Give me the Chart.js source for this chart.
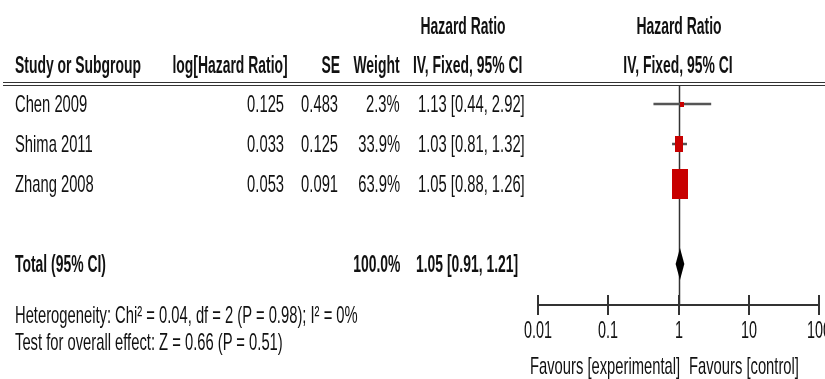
<!DOCTYPE html>
<html>
<head>
<meta charset="utf-8">
<script src="https://cdn.jsdelivr.net/npm/chart.js@4.4.1/dist/chart.umd.min.js"></script>
<style>
  body { margin: 0; background: #fff; width: 825px; height: 379px; overflow: hidden; position: relative; }
  #forest { position: absolute; left: 0; top: 0; }
  .t { position: absolute; white-space: nowrap; font-family: 'Liberation Sans', Arial, sans-serif;
       font-size: 24px; line-height: 24px; color: #111; }
  .b { font-weight: bold; }
  .rule { position: absolute; left: 3px; right: 0; top: 82px; height: 0; border-top: 4px double #333; }
</style>
</head>
<body>
<canvas id="forest" width="825" height="379"></canvas>
<div class="rule"></div>
<div id="labels"></div>
<script>
// Study data
const studies = ['Chen 2009', 'Shima 2011', 'Zhang 2008'];
const logHR = [0.125, 0.033, 0.053];
const se = [0.483, 0.125, 0.091];
const weights = [2.3, 33.9, 63.9];
const hr = [1.13, 1.03, 1.05];
const ciLow = [0.44, 0.81, 0.88];
const ciHigh = [2.92, 1.32, 1.26];

// Pooled estimate
const totalWeight = 100.0;
const totalHR = 1.05;
const totalLow = 0.91;
const totalHigh = 1.21;

// Axis
const tickValues = [0.01, 0.1, 1, 10, 100];
const tickLabels = ['0.01', '0.1', '1', '10', '100'];

// Row slots on the y scale
const rowPos = [1, 2, 3];
const totalPos = 5;

const heterogeneity = 'Heterogeneity: Chi\u00b2 = 0.04, df = 2 (P = 0.98); I\u00b2 = 0%';
const overallEffect = 'Test for overall effect: Z = 0.66 (P = 0.51)';

const SQUEEZE = 0.615;
const SQUEEZE_BOLD = 0.58;
const labels = document.getElementById('labels');

function addText(str, x, y, align, bold) {
  const el = document.createElement('div');
  el.className = bold ? 't b' : 't';
  el.textContent = str;
  const s = bold ? SQUEEZE_BOLD : SQUEEZE;
  el.style.top = (y - 12) + 'px';
  if (align === 'right') {
    el.style.right = (825 - x) + 'px';
    el.style.transformOrigin = 'right center';
    el.style.transform = `scaleX(${s})`;
  } else if (align === 'center') {
    el.style.left = x + 'px';
    el.style.transform = `translateX(-50%) scaleX(${s})`;
  } else {
    el.style.left = x + 'px';
    el.style.transformOrigin = 'left center';
    el.style.transform = `scaleX(${s})`;
  }
  labels.appendChild(el);
}

// Red weight boxes, area grows with weight
function boxImage(w) {
  const c = document.createElement('canvas');
  c.width = Math.max(4, Math.round(w * 0.25));
  c.height = Math.max(5, Math.round(w * 0.47));
  const g = c.getContext('2d');
  g.fillStyle = '#c80000';
  g.fillRect(0, 0, c.width, c.height);
  return c;
}

const forestExtras = {
  id: 'forestExtras',
  beforeDatasetsDraw(chart) {
    const { ctx, chartArea, scales: { x } } = chart;
    const px = Math.round(x.getPixelForValue(1)) + 0.5;
    ctx.save();
    ctx.strokeStyle = '#333';
    ctx.lineWidth = 1.5;
    ctx.beginPath();
    ctx.moveTo(px, chartArea.top);
    ctx.lineTo(px, chartArea.bottom);
    ctx.stroke();
    ctx.restore();
  },
  afterDatasetsDraw(chart) {
    const { ctx, scales: { x, y } } = chart;
    ctx.save();
    // pooled diamond
    ctx.fillStyle = '#000';
    ctx.beginPath();
    ctx.moveTo(x.getPixelForValue(totalLow), y.getPixelForValue(totalPos));
    ctx.lineTo(x.getPixelForValue(totalHR), y.getPixelForValue(totalPos - 0.4));
    ctx.lineTo(x.getPixelForValue(totalHigh), y.getPixelForValue(totalPos));
    ctx.lineTo(x.getPixelForValue(totalHR), y.getPixelForValue(totalPos + 0.4));
    ctx.closePath();
    ctx.fill();
    // tick marks above the axis line, and squeezed tick labels
    tickValues.forEach((v, i) => {
      const px = Math.round(x.getPixelForValue(v));
      ctx.strokeStyle = '#333';
      ctx.lineWidth = 2;
      ctx.beginPath();
      ctx.moveTo(px, x.top - 10);
      ctx.lineTo(px, x.top);
      ctx.stroke();
      ctx.save();
      ctx.translate(px, x.top + 26);
      ctx.scale(0.6, 1);
      ctx.font = '24px "Liberation Sans", Arial, sans-serif';
      ctx.textAlign = 'center';
      ctx.textBaseline = 'middle';
      ctx.fillStyle = '#111';
      ctx.fillText(tickLabels[i], 0, 0);
      ctx.restore();
    });
    ctx.restore();
  }
};

const boxes = {
  data: hr.map((v, i) => ({ x: v, y: rowPos[i] })),
  pointStyle: weights.map(boxImage),
  pointRadius: 5,
  pointHoverRadius: 5
};

const ciLines = studies.map((s, i) => ({
  data: [{ x: ciLow[i], y: rowPos[i] }, { x: ciHigh[i], y: rowPos[i] }],
  showLine: true,
  borderColor: '#555',
  borderWidth: 2.5,
  pointRadius: 0
}));

const chart = new Chart(document.getElementById('forest'), {
  type: 'scatter',
  data: { datasets: [boxes, ...ciLines] },
  options: {
    responsive: false,
    animation: false,
    devicePixelRatio: 1,
    layout: { padding: { left: 538, right: 2, top: 85, bottom: 0 } },
    plugins: { legend: { display: false }, tooltip: { enabled: false } },
    scales: {
      x: {
        type: 'logarithmic',
        min: 0.01,
        max: 100,
        afterBuildTicks: scale => { scale.ticks = tickValues.map(v => ({ value: v })); },
        afterFit: scale => { scale.height = 74; scale.paddingLeft = 0; scale.paddingRight = 0; },
        ticks: { display: false },
        grid: { drawOnChartArea: false, color: '#333', lineWidth: 2, tickLength: 10 },
        border: { color: '#333', width: 2 }
      },
      y: {
        type: 'linear',
        display: false,
        reverse: true,
        min: 0.525,
        max: 6.025
      }
    }
  },
  plugins: [forestExtras]
});

// Table text
const yScale = chart.scales.y;
const xScale = chart.scales.x;

addText('Hazard Ratio', 463, 26, 'center', true);
addText('Hazard Ratio', 679, 26, 'center', true);
addText('Study or Subgroup', 15, 65, 'left', true);
addText('log[Hazard Ratio]', 288, 65, 'right', true);
addText('SE', 340, 65, 'right', true);
addText('Weight', 400, 65, 'right', true);
addText('IV, Fixed, 95% CI', 413, 65, 'left', true);
addText('IV, Fixed, 95% CI', 678, 65, 'center', true);

studies.forEach((s, i) => {
  const y = yScale.getPixelForValue(rowPos[i]);
  addText(s, 15, y, 'left');
  addText(logHR[i].toFixed(3), 284, y, 'right');
  addText(se[i].toFixed(3), 338, y, 'right');
  addText(weights[i].toFixed(1) + '%', 400, y, 'right');
  addText(`${hr[i].toFixed(2)} [${ciLow[i].toFixed(2)}, ${ciHigh[i].toFixed(2)}]`, 418, y, 'left');
});

const yTotal = yScale.getPixelForValue(totalPos);
addText('Total (95% CI)', 15, yTotal, 'left', true);
addText(totalWeight.toFixed(1) + '%', 400, yTotal, 'right', true);
addText(`${totalHR.toFixed(2)} [${totalLow.toFixed(2)}, ${totalHigh.toFixed(2)}]`, 416, yTotal, 'left', true);

addText(heterogeneity, 15, 315, 'left');
addText(overallEffect, 15, 342, 'left');

const xOne = xScale.getPixelForValue(1);
addText('Favours [experimental]', xOne + 2, 366, 'right');
addText('Favours [control]', xOne + 10, 366, 'left');
</script>
</body>
</html>
